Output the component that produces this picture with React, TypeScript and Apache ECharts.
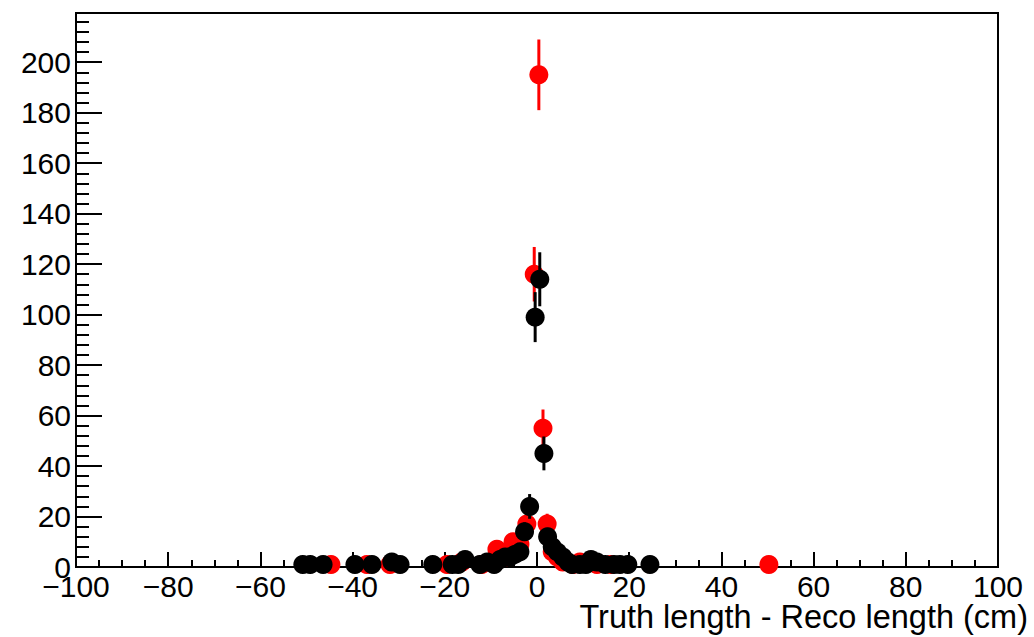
import { useEffect, useRef } from "react";
import * as echarts from "echarts";

// Red histogram (bin centre, content, error)
const redX = [-44.7, -36.9, -31.9, -19.5, -16.3, -12, -8.7, -6.9, -5.2, -3.7, -2.2, -0.6, 0.4, 1.3, 2.2, 3.3, 4.4, 5.6, 7.8, 9.3, 13, 16, 50.3];
const redY = [1, 1, 1, 1, 2, 1, 7, 4, 10, 9, 17, 116, 195, 55, 17, 6, 4, 2, 1, 2, 1, 1, 1];
const redErr = [1, 1, 1, 1, 1.4, 1, 2.6, 2, 3.2, 3, 4.1, 10.8, 14, 7.4, 4.1, 2.4, 2, 1.4, 1, 1.4, 1, 1, 1];

// Black histogram
const blackX = [-50.8, -49.2, -46.4, -39.5, -35.8, -31.5, -29.7, -22.6, -18.4, -17.1, -15.6, -12.4, -10.8, -9.3, -8, -6.9, -5.9, -4.8, -3.7, -2.7, -1.6, -0.4, 0.6, 1.5, 2.3, 3.3, 4.4, 5.6, 6.7, 7.6, 9.3, 10.6, 11.7, 13, 14.8, 16.7, 18, 19.7, 24.5];
const blackY = [1, 1, 1, 1, 1, 2, 1, 1, 1, 1, 3, 1, 2, 1, 3, 4, 4, 5, 6, 14, 24, 99, 114, 45, 12, 8, 6, 4, 2, 1, 1, 1, 3, 2, 1, 1, 1, 1, 1];
const blackErr = [1, 1, 1, 1, 1, 1.4, 1, 1, 1, 1, 1.7, 1, 1.4, 1, 1.7, 2, 2, 2.2, 2.4, 3.7, 4.9, 9.9, 10.7, 6.7, 3.5, 2.8, 2.4, 2, 1.4, 1, 1, 1, 1.7, 1.4, 1, 1, 1, 1, 1];

const xTicks = { min: -100, max: 100, interval: 20 };
const yTicks = { min: 0, max: 219.5, interval: 20 };
const xTitle = "Truth length - Reco length (cm)";

const FONT = '"Liberation Sans", Arial, Helvetica, sans-serif';

function makeSeries(name: string, xs: number[], ys: number[], errs: number[], color: string) {
  return {
    name,
    type: "custom",
    clip: false,
    data: xs.map((x, i) => [x, ys[i], errs[i]]),
    encode: { x: 0, y: 1 },
    renderItem: (_params: any, api: any) => {
      const x = api.value(0);
      const y = api.value(1);
      const e = api.value(2);
      const c = api.coord([x, y]);
      const top = api.coord([x, y + e]);
      const bot = api.coord([x, Math.max(0, y - e)]);
      return {
        type: "group",
        children: [
          {
            type: "line",
            shape: { x1: c[0], y1: top[1], x2: c[0], y2: bot[1] },
            style: { stroke: color, lineWidth: 3 },
          },
          {
            type: "circle",
            shape: { cx: c[0], cy: c[1], r: 9.5 },
            style: { fill: color },
          },
        ],
      };
    },
  };
}

const fmt = (v: number) => {
  if (Math.abs(v % 20) > 1e-6) return "";
  return v < 0 ? "\u2212" + Math.abs(v) : String(v);
};

export default function App() {
  const ref = useRef<HTMLDivElement>(null);
  useEffect(() => {
    if (!ref.current) return;
    const chart = echarts.init(ref.current, undefined, { renderer: "svg" });
    chart.setOption({
      animation: false,
      backgroundColor: "#fff",
      grid: {
        left: 76,
        right: 36,
        top: 13,
        bottom: 70,
        show: true,
        borderColor: "#000",
        borderWidth: 2,
        backgroundColor: "transparent",
      },
      xAxis: {
        type: "value",
        ...xTicks,
        axisLine: { show: true, onZero: false, lineStyle: { color: "#000", width: 2 } },
        axisTick: { show: true, inside: true, length: 15, lineStyle: { color: "#000", width: 2 } },
        minorTick: { show: true, splitNumber: 4, length: 7, lineStyle: { color: "#000", width: 2 } },
        splitLine: { show: false },
        axisLabel: { color: "#000", fontSize: 30, fontFamily: FONT, margin: 4, formatter: fmt },
      },
      yAxis: {
        type: "value",
        ...yTicks,
        axisLine: { show: true, onZero: false, lineStyle: { color: "#000", width: 2 } },
        axisTick: { show: true, inside: true, length: 26, lineStyle: { color: "#000", width: 2 } },
        minorTick: { show: true, splitNumber: 5, length: 13, lineStyle: { color: "#000", width: 2 } },
        splitLine: { show: false },
        axisLabel: { color: "#000", fontSize: 30, fontFamily: FONT, margin: 5, formatter: fmt },
      },
      graphic: [
        {
          type: "text",
          right: 6,
          top: 600,
          style: { text: xTitle, font: `32.5px ${FONT}`, fill: "#000" },
        },
      ],
      series: [
        makeSeries("red", redX, redY, redErr, "#ff0000"),
        makeSeries("black", blackX, blackY, blackErr, "#000000"),
      ],
    });
    return () => chart.dispose();
  }, []);
  return (
    <div
      ref={ref}
      style={{ position: "fixed", left: 0, top: 0, width: 1034, height: 637, background: "#fff" }}
    />
  );
}
